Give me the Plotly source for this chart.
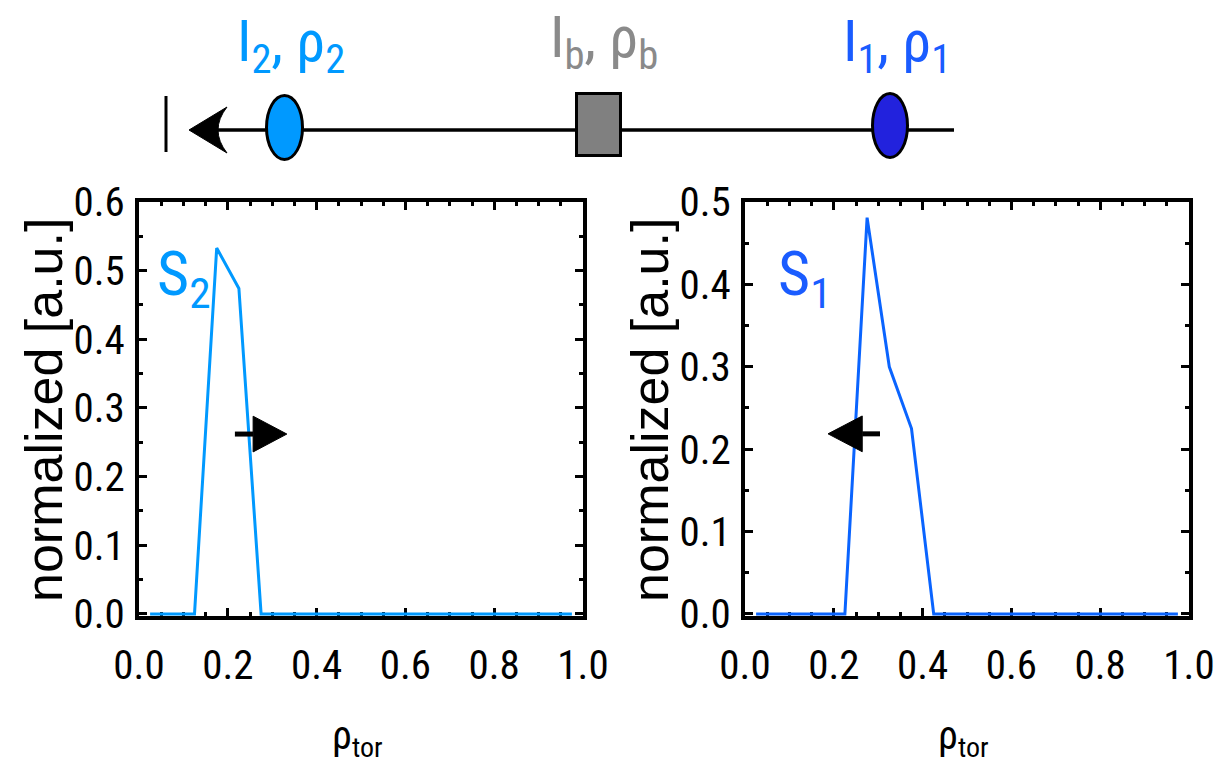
import plotly.graph_objects as go

W, H = 1214, 767

# ---------------- data ----------------
rho_tor = [0.025, 0.075, 0.125, 0.175, 0.225, 0.275, 0.325, 0.375, 0.425, 0.475,
           0.525, 0.575, 0.625, 0.675, 0.725, 0.775, 0.825, 0.875, 0.925, 0.975]
s2_vals = [0.0, 0.0, 0.0, 0.533, 0.474, 0.0, 0.0, 0.0, 0.0, 0.0,
           0.0, 0.0, 0.0, 0.0, 0.0, 0.0, 0.0, 0.0, 0.0, 0.0]
s1_vals = [0.0, 0.0, 0.0, 0.0, 0.0, 0.481, 0.300, 0.225, 0.0, 0.0,
           0.0, 0.0, 0.0, 0.0, 0.0, 0.0, 0.0, 0.0, 0.0, 0.0]

x_tickvals = [0.0, 0.2, 0.4, 0.6, 0.8, 1.0]
x_ticktext = ["0.0", "0.2", "0.4", "0.6", "0.8", "1.0"]
y2_tickvals = [0.0, 0.1, 0.2, 0.3, 0.4, 0.5, 0.6]
y1_tickvals = [0.0, 0.1, 0.2, 0.3, 0.4, 0.5]

# direction arrows inside panels (data units)
arrow_s2 = dict(tail=0.216, base=0.257, tip=0.333, y=0.262, hh=0.026)
arrow_s1 = dict(tail=0.304, base=0.264, tip=0.187, y=0.2186, hh=0.0217)

C_S2 = "#0099ff"
C_S1 = "#0a64ff"
C_S1_TXT = "#1a5cff"
C_I1_FILL = "#2222dd"
C_GRAY = "#808080"
C_GRAY_TXT = "#8a8a8a"

COND = "Roboto Condensed, Liberation Sans, Arial, sans-serif"
SANS = "Liberation Sans, Arial, Helvetica, sans-serif"


def px(x):
    return x / W


def py(y):
    return 1 - y / H


fig = go.Figure()
fig.add_trace(go.Scatter(x=rho_tor, y=s2_vals, mode="lines",
                         line=dict(color=C_S2, width=3), xaxis="x", yaxis="y",
                         showlegend=False))
fig.add_trace(go.Scatter(x=rho_tor, y=s1_vals, mode="lines",
                         line=dict(color=C_S1, width=3), xaxis="x2", yaxis="y2",
                         showlegend=False))

common = dict(showline=True, linewidth=4, linecolor="black", mirror="ticks",
              ticks="inside", ticklen=8, tickwidth=3, tickcolor="black",
              showgrid=False, zeroline=False, layer="below traces", automargin=False,
              ticklabeloverflow="allow",
              tickfont=dict(family=COND, size=41, color="black"),
              minor=dict(ticks="inside", ticklen=4, tickwidth=3, tickcolor="black",
                         dtick=0.05, showgrid=False))

ydom = [py(616), py(202)]
fig.update_layout(
    template="none",
    width=W, height=H, margin=dict(l=0, r=0, t=0, b=0, pad=0), autosize=False,
    paper_bgcolor="white", plot_bgcolor="white", showlegend=False,
    xaxis=dict(domain=[px(139), px(583)], range=[0, 1], anchor="y",
               tickvals=x_tickvals, ticktext=x_ticktext, ticklabelstandoff=10, **common),
    yaxis=dict(domain=ydom, range=[-0.003, 0.6], anchor="x",
               tickvals=y2_tickvals, tickformat=".1f", ticklabelstandoff=2, **common),
    xaxis2=dict(domain=[px(745), px(1189)], range=[0, 1], anchor="y2",
                tickvals=x_tickvals, ticktext=x_ticktext, ticklabelstandoff=10, **common),
    yaxis2=dict(domain=ydom, range=[-0.0025, 0.5], anchor="x2",
                tickvals=y1_tickvals, tickformat=".1f", ticklabelstandoff=2, **common),
)

shapes = []
for a, xr, yr in [(arrow_s2, "x", "y"), (arrow_s1, "x2", "y2")]:
    shapes.append(dict(type="line", xref=xr, yref=yr, x0=a["tail"], x1=a["base"],
                       y0=a["y"], y1=a["y"], line=dict(color="black", width=5)))
    shapes.append(dict(type="path", xref=xr, yref=yr,
                       path=f"M {a['base']},{a['y'] + a['hh']} L {a['tip']},{a['y']} "
                            f"L {a['base']},{a['y'] - a['hh']} Z",
                       fillcolor="black", line=dict(color="black", width=1)))

# top schematic (pixel layout -> paper)
line_y = 130
shapes.append(dict(type="line", xref="paper", yref="paper", x0=px(215), x1=px(954),
                   y0=py(line_y), y1=py(line_y), line=dict(color="black", width=3.5)))
shapes.append(dict(type="line", xref="paper", yref="paper", x0=px(166), x1=px(166),
                   y0=py(96), y1=py(152), line=dict(color="black", width=3)))
shapes.append(dict(type="path", xref="paper", yref="paper",
                   path=f"M {px(189)},{py(130)} L {px(227)},{py(107)} "
                        f"Q {px(209)},{py(130)} {px(227)},{py(153)} Z",
                   fillcolor="black", line=dict(color="black", width=1)))
shapes.append(dict(type="circle", xref="paper", yref="paper", x0=px(266.5), x1=px(302.5),
                   y0=py(95.5), y1=py(159.5), fillcolor=C_S2,
                   line=dict(color="black", width=3)))
shapes.append(dict(type="rect", xref="paper", yref="paper", x0=px(576.5), x1=px(620.5),
                   y0=py(93.5), y1=py(155.5), fillcolor=C_GRAY,
                   line=dict(color="black", width=3)))
shapes.append(dict(type="circle", xref="paper", yref="paper", x0=px(872.5), x1=px(907.5),
                   y0=py(93.5), y1=py(157.5), fillcolor=C_I1_FILL,
                   line=dict(color="black", width=3)))
fig.update_layout(shapes=shapes)

annotations = [
    dict(text="normalized [a.u.]", x=px(44), y=py(410), textangle=-90,
         font=dict(family=SANS, size=52, color="black")),
    dict(text="normalized [a.u.]", x=px(650), y=py(410), textangle=-90,
         font=dict(family=SANS, size=52, color="black")),
    dict(text="ρ<sub>tor</sub>", x=px(357), y=py(738),
         font=dict(family=COND, size=40, color="black")),
    dict(text="ρ<sub>tor</sub>", x=px(963), y=py(738),
         font=dict(family=COND, size=40, color="black")),
    dict(text="S<sub>2</sub>", x=px(155), y=py(278), xanchor="left",
         font=dict(family=COND, size=62, color=C_S2)),
    dict(text="S<sub>1</sub>", x=px(776), y=py(278), xanchor="left",
         font=dict(family=COND, size=62, color=C_S1_TXT)),
    dict(text="I<sub>2</sub>, ρ<sub>2</sub>", x=px(291), y=py(45),
         font=dict(family=COND, size=58, color=C_S2)),
    dict(text="I<sub>b</sub>, ρ<sub>b</sub>", x=px(604), y=py(41),
         font=dict(family=COND, size=58, color=C_GRAY_TXT)),
    dict(text="I<sub>1</sub>, ρ<sub>1</sub>", x=px(897), y=py(45),
         font=dict(family=COND, size=58, color=C_S1_TXT)),
]
for a in annotations:
    a.setdefault("xref", "paper")
    a.setdefault("yref", "paper")
    a.setdefault("showarrow", False)
    a.setdefault("xanchor", "center")
    a.setdefault("yanchor", "middle")
fig.update_layout(annotations=annotations)

fig.write_html("out.html")
